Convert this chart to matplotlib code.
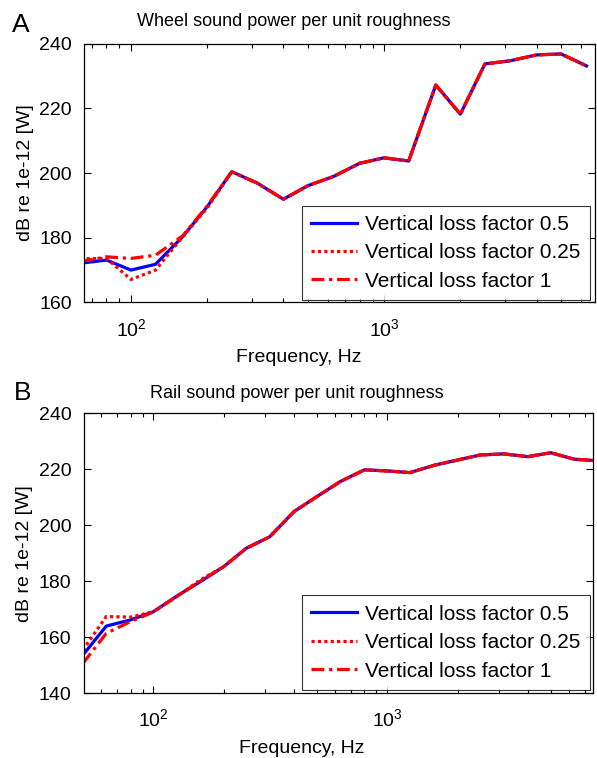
import numpy as np
import matplotlib
matplotlib.use("Agg")
import matplotlib.pyplot as plt

plt.rcParams['font.family'] = ['Liberation Sans', 'DejaVu Sans']
plt.rcParams['mathtext.fontset'] = 'custom'
plt.rcParams['mathtext.rm'] = 'Liberation Sans'
plt.rcParams['mathtext.it'] = 'Liberation Sans'

# --------- data (1/3-octave bands) ---------
freq_wheel = [63, 80, 100, 125, 160, 200, 250, 315, 400, 500, 630, 800, 1000,
              1250, 1600, 2000, 2500, 3150, 4000, 5000, 6300]
wheel_lf05 = [172.1, 173.1, 170.0, 171.8, 180.3, 189.6, 200.4, 196.9, 191.9, 196.1,
              198.9, 203.0, 204.7, 203.7, 227.2, 218.2, 233.7, 234.7, 236.5, 236.8, 233.1]
wheel_lf025 = [173.5, 173.6, 167.1, 170.0, 180.3, 189.2, 200.4, 196.9, 191.9, 196.1,
               198.9, 203.0, 204.7, 203.7, 227.2, 218.2, 233.7, 234.7, 236.5, 236.8, 233.1]
wheel_lf1 = [172.6, 174.1, 173.6, 174.6, 180.6, 189.8, 200.4, 196.9, 191.9, 196.1,
             198.9, 203.0, 204.7, 203.7, 227.2, 218.2, 233.7, 234.7, 236.5, 236.8, 233.1]

freq_rail = [50, 63, 80, 100, 125, 160, 200, 250, 315, 400, 500, 630, 800, 1000,
             1250, 1600, 2000, 2500, 3150, 4000, 5000, 6300, 8000]
rail_lf05 = [153.6, 164.0, 166.2, 169.1, 174.5, 180.0, 185.2, 191.8, 195.9, 204.9, 210.2,
             215.6, 219.8, 219.4, 218.8, 221.5, 223.3, 225.1, 225.5, 224.5, 225.9, 223.6, 223.0]
rail_lf025 = [155.4, 167.4, 167.2, 169.1, 174.3, 180.6, 185.2, 191.8, 195.9, 204.9, 210.2,
              215.6, 219.8, 219.4, 218.8, 221.5, 223.3, 225.1, 225.5, 224.5, 225.9, 223.6, 223.0]
rail_lf1 = [150.6, 161.4, 165.6, 169.0, 174.4, 180.2, 185.2, 191.8, 195.9, 204.9, 210.2,
            215.6, 219.8, 219.4, 218.8, 221.5, 223.3, 225.1, 225.5, 224.5, 225.9, 223.6, 223.0]

labels = ['Vertical loss factor 0.5', 'Vertical loss factor 0.25', 'Vertical loss factor 1']

fig = plt.figure(figsize=(5.97, 7.58), dpi=100)
ax1 = fig.add_axes([0.1415, 0.601, 0.855, 0.3415])
ax2 = fig.add_axes([0.1407, 0.0854, 0.853, 0.3694])


def draw(ax, f, a, b, c, xlim, ylim, yticks, title, tpad, tx, leg_anchor):
    ax.semilogx(f, a, color='#0000ff', lw=2.3, ls='-', label=labels[0])
    ax.semilogx(f, b, color='#ff0000', lw=2.3, ls=(0, (1, 1)), label=labels[1])
    ax.semilogx(f, c, color='#ff0000', lw=2.3, ls=(0, (4, 1.5, 1, 1.5)), label=labels[2])
    ax.set_xlim(xlim); ax.set_ylim(ylim); ax.set_yticks(yticks)
    ax.set_xlabel('Frequency, Hz', fontsize=14, labelpad=7)
    ax.xaxis.label.set_x(tx + 0.01)
    ax.set_ylabel('dB re 1e-12 [W]', fontsize=14, labelpad=4)
    ax.set_title(title, fontsize=13, pad=tpad, x=tx)
    ax.tick_params(which='both', direction='in', top=True, right=True, labelsize=14)
    ax.tick_params(which='major', length=5, width=0.8)
    ax.tick_params(which='minor', length=3, width=0.8)
    ax.xaxis.set_tick_params(which='both', pad=11)
    ax.yaxis.set_tick_params(which='both', pad=9)
    for s in ax.spines.values():
        s.set_linewidth(0.9)
    leg = ax.legend(loc='lower right', bbox_to_anchor=leg_anchor, fontsize=15,
                    frameon=True, fancybox=False, edgecolor='black', borderaxespad=0,
                    handlelength=2.2, handletextpad=0.4, labelspacing=0.45,
                    borderpad=0.45)
    leg.get_frame().set_linewidth(0.8)


draw(ax1, freq_wheel, wheel_lf05, wheel_lf025, wheel_lf1, (65.5, 6800), (160, 240),
     [160, 180, 200, 220, 240], 'Wheel sound power per unit roughness', 13, 0.41,
     (0.990, 0.009))
draw(ax2, freq_rail, rail_lf05, rail_lf025, rail_lf1, (50.6, 7600), (140, 240),
     [140, 160, 180, 200, 220, 240], 'Rail sound power per unit roughness', 11, 0.418,
     (0.994, 0.012))

fig.text(0.02, 0.958, 'A', fontsize=19)
fig.text(0.024, 0.472, 'B', fontsize=19)

fig.savefig('out.png', dpi=100)
